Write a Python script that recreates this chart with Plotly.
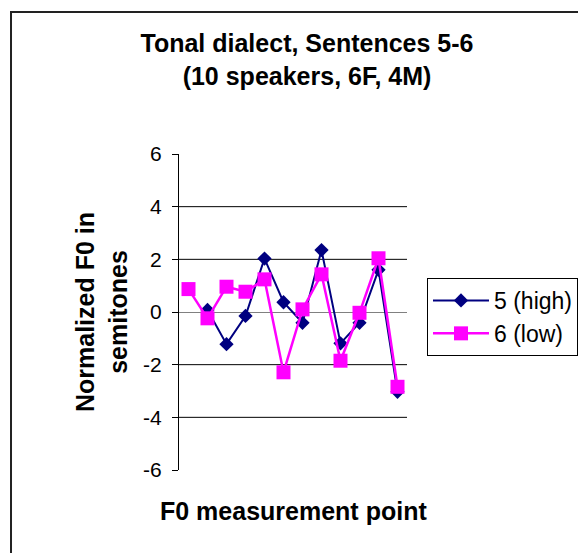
import plotly.graph_objects as go

points = list(range(1, 13))
high_5 = [None, 0.08, -1.22, -0.15, 2.03, 0.37, -0.41, 2.35, -1.19, -0.41, 1.60, -3.03]
low_6 = [0.87, -0.24, 0.96, 0.77, 1.24, -2.29, 0.10, 1.43, -1.85, -0.03, 2.04, -2.84]
y_ticks = [-6, -4, -2, 0, 2, 4, 6]
y_tick_text = ["-6", "-4", "-2", "0", "2", "4", "6"]
grid_vals = [-4, -2, 2, 4]

FONT = "Arial, 'Liberation Sans', sans-serif"

fig = go.Figure()
fig.add_trace(go.Scatter(
    x=points, y=high_5, name="5 (high)", mode="lines+markers",
    line=dict(color="#000080", width=2),
    marker=dict(symbol="diamond", size=11, color="#000080"),
))
fig.add_trace(go.Scatter(
    x=points, y=low_6, name="6 (low)", mode="lines+markers",
    line=dict(color="#FF00FF", width=2.5),
    marker=dict(symbol="square", size=14, color="#FF00FF"),
))

shapes = []
for v in grid_vals:
    shapes.append(dict(type="line", xref="paper", x0=0, x1=1, yref="y", y0=v, y1=v,
                       line=dict(color="black", width=1), layer="below"))
# outer chart border
shapes.append(dict(type="rect", xref="paper", yref="paper",
                   x0=-0.7368, x1=1.9, y0=-0.35, y1=1.4494,
                   line=dict(color="#222222", width=2), fillcolor="rgba(0,0,0,0)"))

fig.update_layout(
    width=586, height=553,
    margin=dict(l=171, r=187, t=146, b=91),
    paper_bgcolor="white", plot_bgcolor="white",
    font=dict(family=FONT, color="black"),
    title=dict(text="<b>Tonal dialect, Sentences 5-6<br>(10 speakers, 6F, 4M)</b>",
               xref="container", x=299 / 586, xanchor="center",
               yref="container", y=1 - 44 / 553, yanchor="middle",
               font=dict(size=25, family=FONT, color="black")),
    xaxis=dict(range=[0.5, 12.5], showgrid=False, zeroline=False, showline=False,
               showticklabels=False, ticks=""),
    yaxis=dict(range=[-6, 6], tickvals=y_ticks, ticktext=y_tick_text, showgrid=False,
               zeroline=True, zerolinecolor="#808080", zerolinewidth=1,
               showline=True, linecolor="black", linewidth=1,
               ticks="outside", ticklen=6, tickcolor="black",
               tickfont=dict(size=21, family=FONT, color="black"),
               ticklabelstandoff=6),
    legend=dict(x=1.0877, xanchor="left", y=0.6076, yanchor="top",
                bordercolor="black", borderwidth=1, bgcolor="white",
                itemwidth=56,
                font=dict(size=23, family=FONT, color="black")),
    shapes=shapes,
    annotations=[
        dict(text="<b>F0 measurement point</b>", xref="paper", yref="paper",
             x=0.504, y=-0.1297, xanchor="center", yanchor="middle", showarrow=False,
             font=dict(size=25, family=FONT, color="black")),
        dict(text="<b>Normalized F0 in<br>semitones</b>", xref="paper", yref="paper",
             x=-0.342, y=0.5, xanchor="center", yanchor="middle", showarrow=False,
             textangle=-90, font=dict(size=25, family=FONT, color="black")),
    ],
)

fig.write_html("out.html")
